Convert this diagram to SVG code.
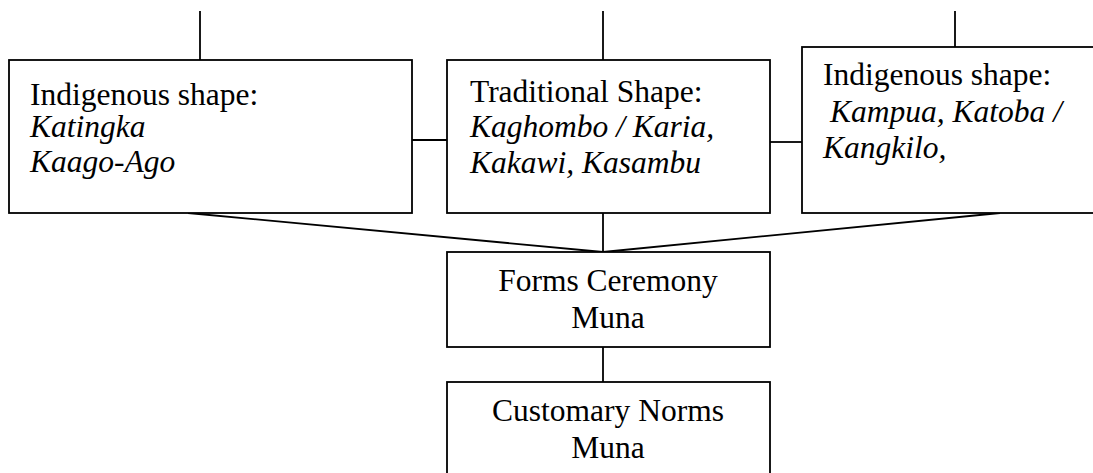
<svg xmlns="http://www.w3.org/2000/svg" width="1093" height="473" viewBox="0 0 1093 473">
<style>
.box{fill:#fff;stroke:#000;stroke-width:1.8}
.ln{stroke:#000;stroke-width:1.8;fill:none}
text{font-family:"Liberation Serif","Times New Roman",serif;font-size:31.5px;fill:#000}
.i{font-style:italic}
.c{text-anchor:middle}
</style>
<rect width="1093" height="473" fill="#fff"/>
<g id="connectors">
<line class="ln" x1="200" y1="11" x2="200" y2="60"/>
<line class="ln" x1="603" y1="11" x2="603" y2="60"/>
<line class="ln" x1="955" y1="11" x2="955" y2="47"/>
<line class="ln" x1="412" y1="140" x2="447" y2="140"/>
<line class="ln" x1="770" y1="142" x2="802" y2="142"/>
<line class="ln" x1="188" y1="213" x2="603" y2="252"/>
<line class="ln" x1="1000" y1="213" x2="603" y2="252"/>
<line class="ln" x1="603" y1="213" x2="603" y2="252"/>
<line class="ln" x1="603" y1="347" x2="603" y2="382"/>
</g>
<g id="node-indigenous-1">
<rect class="box" x="9" y="60" width="403" height="153"/>
<text x="30" y="105">Indigenous shape:</text>
<text class="i" x="30" y="137">Katingka</text>
<text class="i" x="30" y="172">Kaago-Ago</text>
</g>
<g id="node-traditional">
<rect class="box" x="447" y="60" width="323" height="153"/>
<text x="470" y="102">Traditional Shape:</text>
<text class="i" x="470" y="137">Kaghombo / Karia,</text>
<text class="i" x="470" y="173">Kakawi, Kasambu</text>
</g>
<g id="node-indigenous-2">
<rect class="box" x="802" y="47" width="300" height="166"/>
<text x="823" y="85">Indigenous shape:</text>
<text class="i" x="830" y="122">Kampua, Katoba /</text>
<text class="i" x="823" y="158">Kangkilo,</text>
</g>
<g id="node-forms">
<rect class="box" x="447" y="252" width="323" height="95"/>
<text class="c" x="608" y="291">Forms Ceremony</text>
<text class="c" x="608" y="328">Muna</text>
</g>
<g id="node-customary">
<rect class="box" x="447" y="382" width="323" height="110"/>
<text class="c" x="608" y="421">Customary Norms</text>
<text class="c" x="608" y="458">Muna</text>
</g>
</svg>
